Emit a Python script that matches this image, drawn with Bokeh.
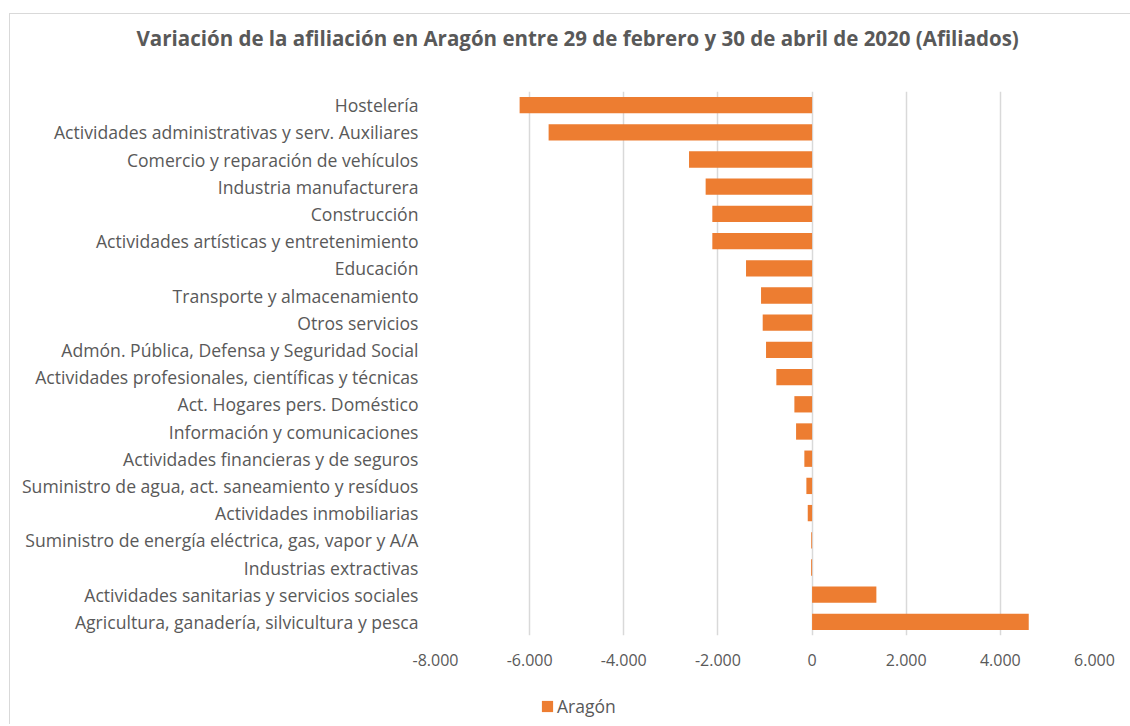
from bokeh.plotting import figure
from bokeh.layouts import column
from bokeh.models import (ColumnDataSource, FactorRange, Range1d, Legend, LegendItem, FixedTicker,
                          CustomJSTickFormatter, Title)
from bokeh.embed import file_html
from bokeh.resources import INLINE

categories = [
    "Hostelería",
    "Actividades administrativas y serv. Auxiliares",
    "Comercio y reparación de vehículos",
    "Industria manufacturera",
    "Construcción",
    "Actividades artísticas y entretenimiento",
    "Educación",
    "Transporte y almacenamiento",
    "Otros servicios",
    "Admón. Pública, Defensa y Seguridad Social",
    "Actividades profesionales, científicas y técnicas",
    "Act. Hogares pers. Doméstico",
    "Información y comunicaciones",
    "Actividades financieras y de seguros",
    "Suministro de agua, act. saneamiento y resíduos",
    "Actividades inmobiliarias",
    "Suministro de energía eléctrica, gas, vapor y A/A",
    "Industrias extractivas",
    "Actividades sanitarias y servicios sociales",
    "Agricultura, ganadería, silvicultura y pesca",
]
values = [-6213, -5597, -2614, -2261, -2119, -2119, -1403, -1084, -1049, -978,
          -759, -376, -340, -164, -121, -92, -18, -20, 1366, 4603]
tick_values = [-8000, -6000, -4000, -2000, 0, 2000, 4000, 6000]
series_name = "Aragón"
title_text = "Variación de la afiliación en Aragón entre 29 de febrero y 30 de abril de 2020 (Afiliados)"

FONT = "Open Sans"
GRAY = "#595959"
ORANGE = "#ED7D31"
LINE_CSS = {
    "background-image": "linear-gradient(#d9d9d9, #d9d9d9), linear-gradient(#d9d9d9, #d9d9d9)",
    "background-repeat": "no-repeat",
    "background-color": "white",
}

src = ColumnDataSource(dict(cat=categories, val=values))

p = figure(
    width=1130, height=680,
    y_range=FactorRange(factors=list(reversed(categories)), range_padding=0),
    x_range=(-8000, 6000),
    output_backend="svg", toolbar_location=None,
    min_border_left=435, min_border_right=36, min_border_top=88, min_border_bottom=45,
)
p.styles = dict(LINE_CSS, **{"background-size": "1px 100%, 100% 1px",
                             "background-position": "9px 13px, 9px 13px"})
p.outline_line_color = None
p.background_fill_color = "white"
p.border_fill_alpha = 0

# small spacer between the title and the plot area
p.add_layout(Title(text=" ", text_font_size="12px", standoff=0, text_font=FONT), "above")

p.title.text = title_text
p.title.align = "left"
p.title.offset = -299
p.title.standoff = 42
p.title.text_font = FONT
p.title.text_font_style = "bold"
p.title.text_font_size = "20.5px"
p.title.text_color = GRAY

r = p.hbar(y="cat", left=0, right="val", height=0.6, source=src,
           fill_color=ORANGE, line_color=None)

p.xaxis.ticker = FixedTicker(ticks=tick_values)
p.xaxis.formatter = CustomJSTickFormatter(code="""
    const s = Math.abs(tick).toFixed(0).replace(/\\B(?=(\\d{3})+(?!\\d))/g, '.');
    return (tick < 0 ? '-' : '') + s;
""")
for ax in (p.xaxis, p.yaxis):
    ax.axis_line_color = None
    ax.major_tick_line_color = None
    ax.minor_tick_line_color = None
    ax.major_tick_out = 0
    ax.major_tick_in = 0
    ax.minor_tick_out = 0
    ax.major_label_text_font = FONT
    ax.major_label_text_color = GRAY
p.xaxis.major_label_text_font_size = "16px"
p.xaxis.major_label_standoff = 18
p.yaxis.major_label_text_font_size = "17.6px"
p.yaxis.major_label_standoff = 17

p.xgrid.grid_line_color = "#d9d9d9"
p.xgrid.grid_line_width = 1.5
p.xgrid.ticker = FixedTicker(ticks=tick_values)
p.ygrid.grid_line_color = None

# legend strip below the chart (its proxy bars have zero height and fall outside its x range)
p2 = figure(width=1130, height=44,
            x_range=Range1d(20000, 30000),
            y_range=FactorRange(factors=list(reversed(categories)), range_padding=0),
            x_axis_type=None, y_axis_type=None,
            output_backend="svg", toolbar_location=None,
            min_border_left=0, min_border_right=0, min_border_top=0, min_border_bottom=0)
legend_x = 540
try:
    p.frame_align = False
    p2.frame_align = False
except Exception:
    p2.min_border_left = 435
    p2.min_border_right = 36
    legend_x = 105
p2.styles = dict(LINE_CSS, **{"background-size": "1px 100%, 0px 0px",
                              "background-position": "9px 0px, 0px 0px"})
p2.outline_line_color = None
p2.background_fill_alpha = 0
p2.border_fill_alpha = 0
p2.xgrid.visible = False
p2.ygrid.visible = False
r2 = p2.hbar(y="cat", left=0, right="val", height=0, source=src,
             fill_color=ORANGE, line_color=None)

legend = Legend(items=[LegendItem(label=series_name, renderers=[r2])],
                location=(legend_x, 6), orientation="horizontal",
                border_line_color=None, background_fill_alpha=0,
                padding=0, margin=0, spacing=0,
                glyph_width=14, glyph_height=14, label_standoff=3,
                label_text_font=FONT, label_text_font_size="17.5px",
                label_text_color=GRAY, label_height=14)
p2.add_layout(legend, "center")

layout = column(p, p2, spacing=0)
open("out.html", "w").write(file_html(layout, INLINE))
